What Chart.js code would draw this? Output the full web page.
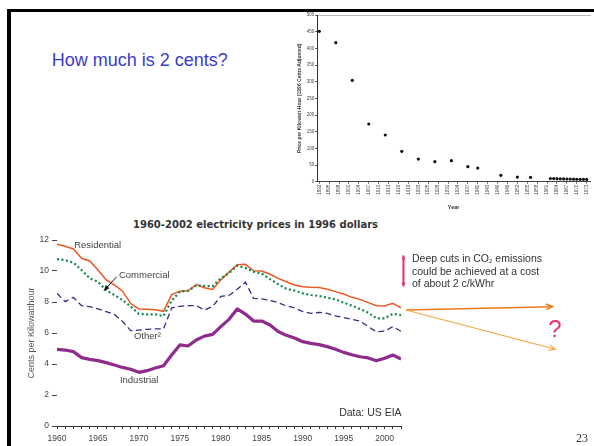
<!DOCTYPE html>
<html>
<head>
<meta charset="utf-8">
<script src="https://cdn.jsdelivr.net/npm/chart.js@4"></script>
<style>
  html, body { margin: 0; padding: 0; background: #fff; }
  body { width: 594px; height: 446px; position: relative; overflow: hidden;
         font-family: "Liberation Sans", Arial, sans-serif; }
  .frame { position: absolute; left: 7px; top: 8.5px; width: 620px; height: 470px;
           border-left: 4px solid #000; border-top: 3px solid #000; box-sizing: border-box; }
  canvas { position: absolute; }
  #main { left: 0; top: 210px; }
  #hist { left: 290px; top: 11px; filter: blur(0.45px); }
  .t { position: absolute; white-space: nowrap; margin: 0; }
  #slideTitle { left: 51.7px; top: 51.4px; font-size: 18px; line-height: 18px; color: #3b3bd0; }
  #chartTitle { left: 133px; width: 240px; top: 220.2px; text-align: center;
                font: bold 10px/10px "DejaVu Sans", sans-serif; color: #333; }
  #note { left: 412px; top: 252.4px; font-size: 10.5px; line-height: 12.5px; color: #333; }
  #note sub { font-size: 6px; vertical-align: -1px; line-height: 0; }
  #qmark { left: 548.3px; top: 316.8px; font-size: 24px; line-height: 24px; color: #e8336e; }
  #pageNo { left: 576px; top: 432.2px; font: 12px/12px "Liberation Serif", serif; color: #333; }
</style>
</head>
<body>
<div class="frame"></div>
<div class="t" id="slideTitle">How much is 2 cents?</div>
<canvas id="hist" width="304" height="200"></canvas>
<div class="t" id="chartTitle">1960-2002 electricity prices in 1996 dollars</div>
<canvas id="main" width="594" height="236"></canvas>
<div class="t" id="note">Deep cuts in CO<sub>2</sub> emissions<br>could be achieved at a cost<br>of about 2 c/kWhr</div>
<div class="t" id="qmark">?</div>
<div class="t" id="pageNo">23</div>

<script>
// ---- Retail electricity prices, cents per kWh (1996 dollars) ----
const years = [1960,1961,1962,1963,1964,1965,1966,1967,1968,1969,
               1970,1971,1972,1973,1974,1975,1976,1977,1978,1979,
               1980,1981,1982,1983,1984,1985,1986,1987,1988,1989,
               1990,1991,1992,1993,1994,1995,1996,1997,1998,1999,
               2000,2001,2002];

const residential = [11.72,11.6,11.42,10.82,10.65,10.06,9.42,9.1,8.7,7.9,
                     7.55,7.53,7.5,7.4,8.48,8.7,8.72,9.12,8.92,8.81,
                     9.43,9.93,10.4,10.43,10.01,10.0,9.79,9.52,9.31,9.1,
                     8.99,8.95,8.93,8.82,8.67,8.52,8.3,8.17,7.96,7.76,
                     7.74,7.91,7.63];

const commercial = [10.77,10.7,10.54,10.06,9.53,9.31,8.77,8.45,8.13,7.7,
                    7.23,7.2,7.2,7.1,8.08,8.67,8.72,9.07,9.04,9.02,
                    9.53,9.87,10.34,10.2,9.95,9.83,9.48,9.15,8.85,8.73,
                    8.56,8.45,8.39,8.28,8.17,7.96,7.76,7.55,7.31,6.95,
                    6.95,7.23,7.16];

const other = [8.56,8.02,8.3,7.76,7.7,7.55,7.38,7.2,6.75,6.15,
               6.19,6.24,6.26,6.26,7.62,7.72,7.77,7.77,7.48,7.72,
               8.36,8.42,8.82,9.28,8.24,8.2,8.1,7.96,7.75,7.62,
               7.38,7.27,7.33,7.27,7.1,6.99,6.88,6.77,6.41,6.08,
               6.12,6.41,6.12];

const industrial = [4.95,4.9,4.8,4.41,4.3,4.22,4.09,3.94,3.78,3.66,
                    3.46,3.57,3.74,3.89,4.58,5.23,5.16,5.55,5.8,5.91,
                    6.41,6.88,7.55,7.22,6.77,6.77,6.52,6.1,5.85,5.68,
                    5.44,5.33,5.25,5.12,4.95,4.75,4.6,4.47,4.39,4.21,
                    4.37,4.58,4.32];

const yTicks = [0, 2, 4, 6, 8, 10, 12];

// ---- Long-run average price, cents per kWh (1996 cents) ----
const histYears = [1892,1897,1902,1907,1912,1917,1922,1927,1932,1937,1940,1947,1952,1956,
                   1962,1963,1964,1965,1966,1967,1968,1969,1970,1971,1972,1973];
const histPrice = [451,417,304,173,140,91,68,60,63,45,41,19,14,13,
                   9.6,9.3,9.0,8.7,8.4,8.1,7.8,7.6,7.4,7.2,7.0,6.8];
const histTickYears = [1892,1895,1898,1901,1904,1907,1910,1913,1916,1919,1922,1925,1928,1931,
                       1934,1937,1940,1943,1946,1949,1952,1955,1958,1961,1964,1967,1970,1973];

// ---- annotation layout (data coordinates of the main chart) ----
const seriesNames = [
  { text: 'Residential', at: [1962.1, 11.63] },
  { text: 'Commercial',  at: [1967.56, 9.70] },
  { text: 'Other\u00B2', at: [1969.39, 5.76] },
  { text: 'Industrial',  at: [1967.68, 2.92] }
];

const SANS = '"Liberation Sans", Arial, sans-serif';

function drawArrow(ctx, x1, y1, x2, y2, size, filled) {
  const a = Math.atan2(y2 - y1, x2 - x1);
  ctx.beginPath();
  ctx.moveTo(x1, y1);
  ctx.lineTo(x2, y2);
  ctx.stroke();
  const l1x = x2 - size * Math.cos(a - 0.42), l1y = y2 - size * Math.sin(a - 0.42);
  const l2x = x2 - size * Math.cos(a + 0.42), l2y = y2 - size * Math.sin(a + 0.42);
  ctx.beginPath();
  if (filled) {
    ctx.moveTo(x2, y2); ctx.lineTo(l1x, l1y); ctx.lineTo(l2x, l2y); ctx.closePath(); ctx.fill();
  } else {
    ctx.moveTo(l1x, l1y); ctx.lineTo(x2, y2); ctx.lineTo(l2x, l2y); ctx.stroke();
  }
}

const annotate = {
  id: 'annotate',
  afterDatasetsDraw(chart) {
    const { ctx, scales: { x, y } } = chart;
    const px = v => x.getPixelForValue(v);
    const py = v => y.getPixelForValue(v);
    ctx.save();
    ctx.textBaseline = 'middle';
    ctx.textAlign = 'left';
    ctx.fillStyle = '#444';
    ctx.font = '9.5px ' + SANS;
    seriesNames.forEach(n => ctx.fillText(n.text, px(n.at[0]), py(n.at[1])));

    // pointer from the "Commercial" label to its line
    ctx.strokeStyle = '#111'; ctx.fillStyle = '#111'; ctx.lineWidth = 1;
    drawArrow(ctx, px(1967.28), py(9.63), px(1965.73), py(8.73), 6, true);

    // source note
    ctx.fillStyle = '#333';
    ctx.font = '10.5px ' + SANS;
    ctx.textAlign = 'right';
    ctx.fillText('Data: US EIA', px(2002.07), py(0.86));

    // 2-cent bracket
    ctx.strokeStyle = '#e6306a'; ctx.fillStyle = '#e6306a'; ctx.lineWidth = 2;
    const bx = px(2002.3);
    drawArrow(ctx, bx, py(10), bx, py(11), 4.5, true);
    drawArrow(ctx, bx, py(10), bx, py(9), 4.5, true);

    // possible future paths
    ctx.lineWidth = 1.5; ctx.strokeStyle = '#ef7a12';
    drawArrow(ctx, px(2002.6), py(7.48), px(2020.5), py(7.7), 7, false);
    ctx.lineWidth = 1.1; ctx.strokeStyle = '#f6a640';
    drawArrow(ctx, px(2002.6), py(7.48), px(2020.85), py(4.95), 7, false);
    ctx.restore();
  }
};

const pts = arr => years.map((yr, i) => ({ x: yr, y: arr[i] }));

new Chart(document.getElementById('main'), {
  type: 'line',
  data: {
    datasets: [
      { label: 'Industrial', data: pts(industrial), borderColor: '#8f2b8c', borderWidth: 3.2,
        borderJoinStyle: 'round', pointRadius: 0, tension: 0 },
      { label: 'Other', data: pts(other), borderColor: '#3b2a86', borderWidth: 1.3,
        borderDash: [6, 3.5], pointRadius: 0, tension: 0 },
      { label: 'Commercial', data: pts(commercial), borderColor: '#12884a', borderWidth: 2.2,
        borderDash: [2, 2.5], pointRadius: 0, tension: 0 },
      { label: 'Residential', data: pts(residential), borderColor: '#ee5623', borderWidth: 1.5,
        pointRadius: 0, tension: 0 }
    ]
  },
  options: {
    responsive: false,
    animation: false,
    events: [],
    layout: { padding: { left: 20, right: 193, top: 30, bottom: 0 } },
    plugins: { legend: { display: false }, tooltip: { enabled: false } },
    scales: {
      x: {
        type: 'linear', min: 1960, max: 2002,
        afterFit: s => { s.height = 20; },
        ticks: { stepSize: 1, autoSkip: false, maxRotation: 0, maxTicksLimit: 100, padding: 4.5,
                 color: '#444', font: { size: 8.5, family: SANS },
                 callback: v => (v % 5 === 0 ? String(v) : '') },
        grid: { drawOnChartArea: false, drawTicks: true, tickLength: 3, color: '#333' },
        border: { display: true, color: '#333', width: 1 }
      },
      y: {
        min: 0, max: 12,
        afterFit: s => { s.width = 37; },
        afterBuildTicks: s => { s.ticks = yTicks.map(v => ({ value: v })); },
        ticks: { padding: 3, color: '#444', font: { size: 8.5, family: SANS } },
        grid: { drawOnChartArea: false, drawTicks: true, tickLength: 5, color: '#444' },
        border: { display: false },
        title: { display: true, text: 'Cents per Kilowatthour', color: '#555',
                 font: { size: 9, family: SANS }, padding: { top: 6.3, bottom: 0 } }
      }
    }
  },
  plugins: [annotate]
});

new Chart(document.getElementById('hist'), {
  type: 'scatter',
  data: {
    datasets: [{ data: histYears.map((yr, i) => ({ x: yr, y: histPrice[i] })),
                 pointRadius: 1.6, pointBackgroundColor: '#111', pointBorderWidth: 0 }]
  },
  options: {
    responsive: false,
    animation: false,
    events: [],
    layout: { padding: { left: 0, right: 0, top: 1.7, bottom: 0 } },
    plugins: { legend: { display: false }, tooltip: { enabled: false } },
    scales: {
      x: {
        type: 'linear', min: 1891.4, max: 1974,
        afterBuildTicks: s => { s.ticks = histTickYears.map(v => ({ value: v })); },
        afterFit: s => { s.height = 29.3; },
        ticks: { minRotation: 90, maxRotation: 90, autoSkip: false, padding: 1,
                 color: '#444', font: { size: 4.5, family: SANS }, callback: v => String(v) },
        grid: { drawOnChartArea: false, tickLength: 2, color: '#666' },
        border: { color: '#444', dash: [1, 2] },
        title: { display: true, text: 'Year', color: '#333',
                 font: { size: 5.5, weight: 'bold', family: SANS }, padding: { top: 1, bottom: 0 } }
      },
      xTop: {
        type: 'linear', position: 'top', min: 1891.4, max: 1974,
        afterFit: s => { s.height = 0; },
        ticks: { display: false }, grid: { display: false },
        border: { color: '#bbb' }
      },
      y: {
        min: 0, max: 500,
        afterFit: s => { s.width = 27.3; },
        ticks: { stepSize: 50, padding: 1, color: '#444', font: { size: 4.5, family: SANS } },
        grid: { drawOnChartArea: false, tickLength: 2, color: '#444' },
        border: { color: '#333' },
        title: { display: true, text: 'Price per Kilowatt-Hour (1996 Cents Adjusted)', color: '#333',
                 font: { size: 5, weight: 'bold', family: SANS }, padding: { top: 6.7, bottom: 0 } }
      }
    }
  }
});
</script>
</body>
</html>
